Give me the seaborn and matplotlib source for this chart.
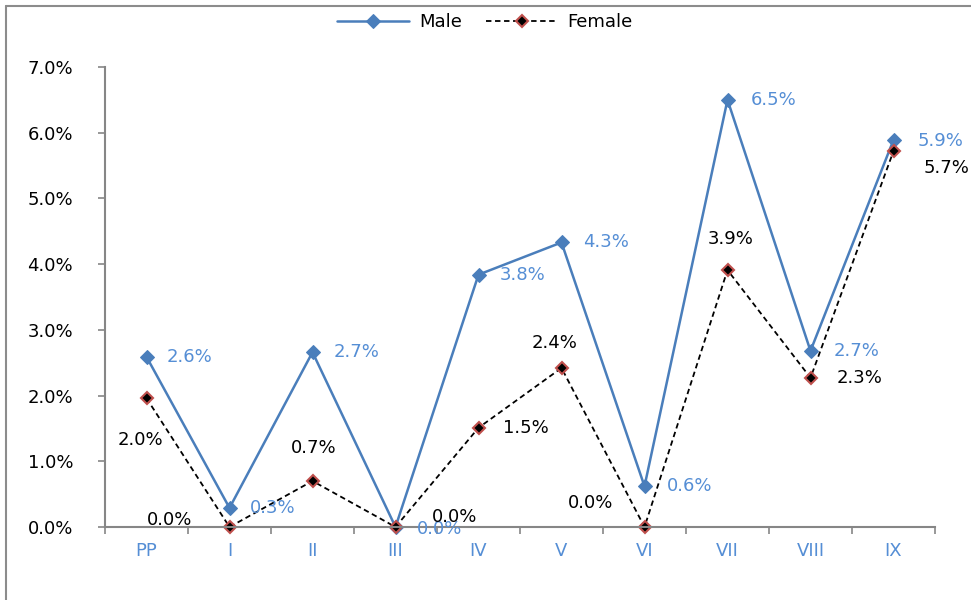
import matplotlib
matplotlib.use("Agg")
import matplotlib.pyplot as plt
import seaborn as sns
import pandas as pd
import numpy as np
from matplotlib.lines import Line2D
from matplotlib.ticker import FixedLocator, FuncFormatter

categories = ["PP", "I", "II", "III", "IV", "V", "VI", "VII", "VIII", "IX"]
male = [2.6, 0.3, 2.7, 0.0, 3.8, 4.3, 0.6, 6.5, 2.7, 5.9]
female = [2.0, 0.0, 0.7, 0.0, 1.5, 2.4, 0.0, 3.9, 2.3, 5.7]
male_plot = [2.59, 0.29, 2.66, 0.0, 3.84, 4.33, 0.62, 6.5, 2.68, 5.89]
female_plot = [1.96, 0.0, 0.70, 0.0, 1.51, 2.42, 0.0, 3.91, 2.27, 5.72]
y_ticks = [0, 1, 2, 3, 4, 5, 6, 7]

# label offsets in pixels (styling only)
male_off = [(20, 0), (20, 0), (21, 0), (21, -2), (21, 0), (22, 0), (22, 0), (23, 0), (23, 0), (24, -1)]
female_off = [(-6, -42), (-60, 7), (1, 33), (59, 10), (47, 0), (-7, 25), (-54, 24), (3, 31), (49, 0), (53, -17)]

sns.set_style("white")
plt.rcParams["font.family"] = ["DejaVu Sans"]
plt.rcParams["text.color"] = "black"
FS = 13

df = pd.DataFrame({
    "cat": pd.Categorical(categories * 2, categories=categories, ordered=True),
    "val": male_plot + female_plot,
    "sex": ["Male"] * len(categories) + ["Female"] * len(categories),
})
df["pos"] = df["cat"].cat.codes

fig = plt.figure(figsize=(9.71, 6.0), dpi=100)
ax = fig.add_axes([105 / 971, 1 - 527 / 600, 830 / 971, 460 / 600])

blue = "#4A7EBB"
lblue = "#558ED5"
red = "#C0504D"

dm = df[df.sex == "Male"]
dfm = df[df.sex == "Female"]
sns.lineplot(data=dm, x="pos", y="val", ax=ax, color=blue, lw=1.8, marker="D",
             markersize=7, markeredgecolor=blue, markerfacecolor=blue, sort=False,
             label="Male", legend=False)
sns.lineplot(data=dfm, x="pos", y="val", ax=ax, color="black", lw=1.3, marker="D",
             markersize=6, markeredgecolor=red, markeredgewidth=1.5, markerfacecolor="black",
             sort=False, label="Female", legend=False)
ax.lines[1].set_dashes([3, 2])

for i, (v, vp) in enumerate(zip(male, male_plot)):
    ax.annotate(f"{v:.1f}%", (i, vp), xytext=male_off[i], textcoords="offset pixels",
                ha="left", va="center", color=lblue, fontsize=FS)
for i, (v, vp) in enumerate(zip(female, female_plot)):
    ax.annotate(f"{v:.1f}%", (i, vp), xytext=female_off[i], textcoords="offset pixels",
                ha="center", va="center", color="black", fontsize=FS, annotation_clip=False)

ax.set_xlim(-0.5, len(categories) - 0.5)
ax.set_ylim(0, 7)
ax.set_yticks(y_ticks)
ax.yaxis.set_major_formatter(FuncFormatter(lambda v, p: f"{v:.1f}%"))
ax.set_xticks(range(len(categories)))
ax.set_xticklabels(categories, color=lblue, fontsize=FS)
ax.xaxis.set_minor_locator(FixedLocator(np.arange(-0.5, len(categories), 1.0)))
ax.tick_params(axis="x", which="major", length=0, pad=11)
ax.tick_params(axis="x", which="minor", length=5, color="#868686", width=1.2, direction="out", bottom=True)
ax.tick_params(axis="y", which="major", length=5, color="#868686", width=1.2, direction="out", left=True,
               labelsize=FS, labelcolor="black", pad=18)
ax.set_xlabel("")
ax.set_ylabel("")
for s in ["top", "right"]:
    ax.spines[s].set_visible(False)
for s in ["left", "bottom"]:
    ax.spines[s].set_color("#868686")
    ax.spines[s].set_linewidth(1.5)
for a in ax.lines[:2]:
    a.set_clip_on(False)

handles = ax.lines[:2]
leg = fig.legend(handles, ["Male", "Female"], loc="center", bbox_to_anchor=(485 / 971, 1 - 22 / 600),
                 ncol=2, frameon=False, fontsize=FS, handlelength=4.0, columnspacing=1.3,
                 handletextpad=0.55, labelcolor="black")

# chart-area border (top and left edges visible in the crop)
fx, fy = 5.5 / 971, 1 - 5.5 / 600
fig.add_artist(Line2D([fx, 1.0], [fy, fy], transform=fig.transFigure, color="#8C8C8C", lw=1.5))
fig.add_artist(Line2D([fx, fx], [0.0, fy], transform=fig.transFigure, color="#8C8C8C", lw=1.5))

fig.savefig("out.png", dpi=100)
